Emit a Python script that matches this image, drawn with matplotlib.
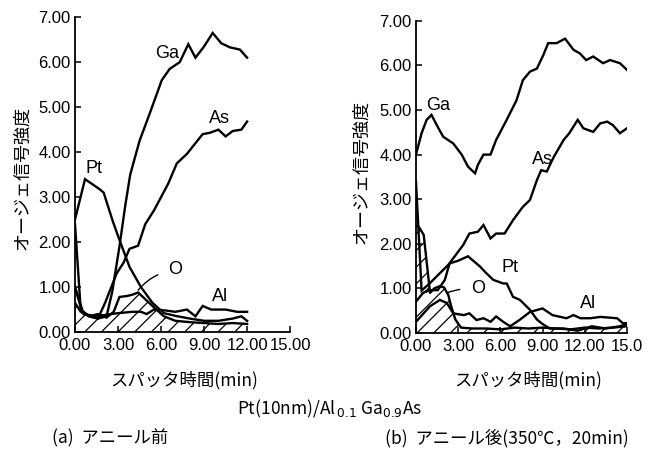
import matplotlib
matplotlib.use("Agg")
import matplotlib.pyplot as plt

plt.rcParams['font.family'] = ['Liberation Sans', 'Noto Sans CJK JP', 'DejaVu Sans']
plt.rcParams['hatch.linewidth'] = 0.9
JP = ['Noto Sans CJK JP', 'DejaVu Sans']

# ---------- (a) before anneal ----------
a_ga_t = [0, 0.4, 1.0, 1.6, 2.2, 2.6, 3.1, 3.5, 3.85, 4.5, 5.2, 6.05, 6.6, 7.3, 7.9, 8.4, 9.0, 9.6, 10.2, 10.8, 11.5, 12.0]
a_ga_v = [2.4, 0.5, 0.35, 0.3, 0.35, 0.9, 1.9, 2.8, 3.5, 4.25, 4.85, 5.6, 5.85, 6.0, 6.4, 6.1, 6.35, 6.65, 6.42, 6.33, 6.28, 6.1]

a_as_t = [0, 0.5, 1.0, 1.6, 2.1, 2.9, 3.4, 3.8, 4.4, 4.9, 5.5, 6.0, 6.5, 7.1, 7.8, 8.4, 8.9, 9.4, 10.0, 10.5, 11.0, 11.6, 12.0]
a_as_v = [1.0, 0.45, 0.35, 0.3, 0.65, 1.3, 1.55, 1.85, 1.92, 2.4, 2.7, 3.0, 3.3, 3.75, 3.96, 4.2, 4.4, 4.43, 4.5, 4.35, 4.47, 4.5, 4.68]

a_pt_t = [0, 0.7, 1.7, 2.0, 2.65, 3.1, 3.8, 4.6, 5.4, 6.2, 7.0, 8.0, 9.0, 10.0, 11.0, 11.6, 12.0]
a_pt_v = [2.5, 3.4, 3.18, 3.1, 2.45, 2.05, 1.45, 1.0, 0.65, 0.42, 0.36, 0.3, 0.25, 0.25, 0.3, 0.35, 0.25]

a_al_t = [0, 0.6, 1.5, 2.5, 3.0, 4.0, 4.6, 5.0, 5.5, 6.3, 7.0, 7.8, 8.4, 8.9, 9.5, 10.5, 11.3, 12.0]
a_al_v = [1.0, 0.4, 0.35, 0.4, 0.42, 0.45, 0.45, 0.4, 0.5, 0.48, 0.45, 0.5, 0.35, 0.58, 0.5, 0.5, 0.45, 0.45]

a_o_t = [0, 0.4, 1.0, 1.6, 2.2, 2.7, 3.1, 3.6, 4.0, 4.4, 5.0, 5.6, 6.2, 7.0, 8.0, 9.0, 10.0, 11.0, 12.0]
a_o_v = [0.65, 0.45, 0.35, 0.4, 0.32, 0.45, 0.78, 0.8, 0.83, 0.88, 0.7, 0.52, 0.35, 0.25, 0.22, 0.2, 0.18, 0.2, 0.18]

# ---------- (b) after anneal ----------
b_ga_t = [0, 0.4, 0.76, 1.1, 1.6, 1.94, 2.65, 3.25, 3.7, 4.2, 4.4, 4.8, 5.3, 5.7, 6.45, 7.15, 7.6, 8.1, 8.6, 9.05, 9.4, 10.0, 10.6, 11.2, 11.65, 12.1, 12.6, 13.3, 13.8, 14.5, 15.0]
b_ga_v = [4.0, 4.48, 4.78, 4.89, 4.59, 4.4, 4.25, 4.0, 3.73, 3.58, 3.77, 4.0, 4.0, 4.33, 4.78, 5.22, 5.67, 5.86, 5.93, 6.23, 6.5, 6.5, 6.6, 6.35, 6.27, 6.12, 6.2, 6.05, 6.12, 6.05, 5.9]

b_as_t = [0, 0.5, 1.0, 1.55, 2.05, 2.4, 3.35, 3.8, 4.4, 4.8, 5.3, 5.7, 6.3, 6.9, 7.6, 8.1, 8.6, 8.9, 9.3, 9.8, 10.5, 10.9, 11.5, 11.9, 12.6, 13.1, 13.6, 14.0, 14.5, 15.0]
b_as_v = [0.7, 0.9, 0.96, 0.96, 1.19, 1.57, 1.97, 2.23, 2.27, 2.42, 2.12, 2.23, 2.23, 2.53, 2.83, 2.98, 3.43, 3.65, 3.62, 3.95, 4.33, 4.48, 4.78, 4.59, 4.51, 4.7, 4.74, 4.66, 4.48, 4.59]

b_pt_t = [0, 0.4, 1.0, 1.7, 2.4, 3.0, 3.7, 4.55, 5.0, 5.5, 6.2, 6.45, 6.9, 7.4, 8.1, 8.6, 9.0, 9.5, 10.5, 11.5, 12.5, 13.5, 14.5, 15.0]
b_pt_v = [3.4, 0.95, 1.12, 1.34, 1.56, 1.62, 1.72, 1.49, 1.34, 1.19, 1.11, 1.11, 0.81, 0.74, 0.52, 0.3, 0.2, 0.1, 0.1, 0.05, 0.15, 0.1, 0.15, 0.2]

b_al_t = [0, 1.0, 1.7, 2.2, 2.65, 3.4, 3.8, 4.3, 4.8, 5.3, 5.7, 6.2, 6.7, 7.4, 8.1, 9.0, 9.7, 10.7, 11.2, 11.7, 12.4, 13.1, 14.3, 14.7, 15.0]
b_al_v = [0.25, 0.6, 0.74, 0.67, 0.44, 0.4, 0.44, 0.29, 0.33, 0.25, 0.37, 0.25, 0.15, 0.3, 0.47, 0.55, 0.4, 0.33, 0.4, 0.33, 0.33, 0.36, 0.33, 0.22, 0.22]

b_o_t = [0, 0.2, 0.55, 1.0, 1.3, 1.7, 2.0, 2.3, 2.5, 2.8, 3.2, 4.0, 5.0, 6.0, 7.0, 8.0, 9.0, 10.0, 11.0, 12.0, 13.0, 14.0, 15.0]
b_o_v = [2.4, 2.38, 2.2, 0.9, 1.0, 1.05, 1.02, 0.85, 0.6, 0.3, 0.12, 0.1, 0.1, 0.08, 0.12, 0.1, 0.12, 0.1, 0.08, 0.12, 0.1, 0.12, 0.15]

y_ticks = [0, 1, 2, 3, 4, 5, 6, 7]
x_ticks = [0, 3, 6, 9, 12, 15]
a_xlabels = ['0.00', '3.00', '6.00', '9.00', '12.00', '15.00']
b_xlabels = ['0.00', '3.00', '6.00', '9.00', '12.00', '15.0']

fig = plt.figure(figsize=(6.52, 4.53), dpi=100)
ax1 = fig.add_axes([0.115, 0.267, 0.33, 0.695])
ax2 = fig.add_axes([0.638, 0.265, 0.3236, 0.689])

LW = 1.7

def style(ax, xlabels):
    ax.set_xlim(0, 15)
    ax.set_ylim(0, 7)
    for s in ['top', 'right']:
        ax.spines[s].set_visible(False)
    for s in ['left', 'bottom']:
        ax.spines[s].set_linewidth(1.3)
    ax.set_yticks(y_ticks)
    ax.set_yticklabels(['%.2f' % v for v in y_ticks])
    ax.set_xticks(x_ticks)
    ax.set_xticklabels(xlabels)
    ax.tick_params(direction='in', length=4, width=1.1, labelsize=12)
    ax.tick_params(axis='y', pad=3)
    ax.tick_params(axis='x', pad=4)

def draw(ax, o_t, o_v, series):
    ax.fill_between(o_t, 0, o_v, facecolor='white', edgecolor='black', hatch='//', linewidth=0, zorder=1)
    ax.plot(o_t, o_v, color='black', lw=LW, zorder=3)
    for t, v in series:
        ax.plot(t, v, color='black', lw=LW, zorder=3, solid_joinstyle='miter')

style(ax1, a_xlabels)
style(ax2, b_xlabels)
draw(ax1, a_o_t, a_o_v, [(a_ga_t, a_ga_v), (a_as_t, a_as_v), (a_pt_t, a_pt_v), (a_al_t, a_al_v)])
draw(ax2, b_o_t, b_o_v, [(b_ga_t, b_ga_v), (b_as_t, b_as_v), (b_pt_t, b_pt_v), (b_al_t, b_al_v)])

lab = dict(fontsize=13, ha='center', va='center')
ax1.text(6.4, 6.2, 'Ga', **lab)
ax1.text(10.1, 4.75, 'As', **lab)
ax1.text(1.3, 3.64, 'Pt', **lab)
ax1.text(10.1, 0.8, 'Al', **lab)
ax1.annotate('O', xy=(4.4, 0.93), xytext=(7.0, 1.38), fontsize=13, ha='center', va='center',
             arrowprops=dict(arrowstyle='-', lw=1.0, color='black', shrinkA=6, shrinkB=0,
                             connectionstyle='arc3,rad=0.2'))

ax2.text(1.55, 5.1, 'Ga', **lab)
ax2.text(9.0, 3.88, 'As', **lab)
ax2.text(6.7, 1.46, 'Pt', **lab)
ax2.text(12.2, 0.67, 'Al', **lab)
ax2.annotate('O', xy=(2.2, 0.9), xytext=(4.4, 1.0), fontsize=13, ha='center', va='center',
             arrowprops=dict(arrowstyle='-', lw=1.0, color='black', shrinkA=6, shrinkB=0,
                             connectionstyle='arc3,rad=0.1'))

W, H = 652.0, 453.0
fig.text(22 / W, 1 - 178 / H, 'オージェ信号強度', rotation=90, ha='center', va='center', fontsize=13, family=JP)
fig.text(361 / W, 1 - 172 / H, 'オージェ信号強度', rotation=90, ha='center', va='center', fontsize=13, family=JP)
fig.text(184 / W, 1 - 380 / H, 'スパッタ時間(min)', ha='center', va='center', fontsize=12.5, family=JP)
fig.text(528 / W, 1 - 380 / H, 'スパッタ時間(min)', ha='center', va='center', fontsize=12.5, family=JP)
fig.text(330 / W, 1 - 409 / H, 'Pt(10nm)/Al$_{\\,0.1}$ Ga$_{0.9}$As', ha='center', va='center', fontsize=12.5, family=JP)
fig.text(52 / W, 1 - 438 / H, '(a)  アニール前', ha='left', va='center', fontsize=12.5, family=JP)
fig.text(385 / W, 1 - 438 / H, '(b)  アニール後(350℃，20min)', ha='left', va='center', fontsize=12.5, family=JP)

fig.savefig('out.png', dpi=100)
